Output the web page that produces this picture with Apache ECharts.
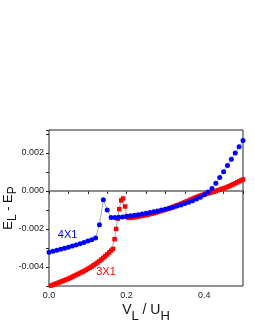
<!DOCTYPE html>
<html><head><meta charset="utf-8">
<script src="https://cdn.jsdelivr.net/npm/echarts@6/dist/echarts.min.js"></script>
<style>html,body{margin:0;padding:0;background:#fff}#c{width:255px;height:330px}</style>
</head><body><div id="c"></div>
<script>
// 4X1 (blue circles)
const blueX = [0.00,0.01,0.02,0.03,0.04,0.05,0.06,0.07,0.08,0.09,0.10,0.11,0.12,0.13,0.14,0.15,0.16,0.17,0.18,0.19,0.20,0.21,0.22,0.23,0.24,0.25,0.26,0.27,0.28,0.29,0.30,0.31,0.32,0.33,0.34,0.35,0.36,0.37,0.38,0.39,0.40,0.41,0.42,0.43,0.44,0.45,0.46,0.47,0.48,0.49,0.50];
const blueY = [-0.00322,-0.00317,-0.00312,-0.00307,-0.00302,-0.00296,-0.00290,-0.00284,-0.00278,-0.00271,-0.00264,-0.00257,-0.00248,-0.00178,-0.00047,-0.00100,
  -0.00140,-0.00140,-0.00139,-0.00137,-0.00134,-0.00131,-0.00128,-0.00125,-0.00121,-0.00118,-0.00114,-0.00110,-0.00106,-0.00101,-0.00096,-0.00091,-0.00086,-0.00080,-0.00074,-0.00067,-0.00060,-0.00052,-0.00043,-0.00033,-0.00021,-0.00006,
  0.00012,0.00040,0.00070,0.00100,0.00133,0.00166,0.00199,0.00232,0.00265];
// 3X1 (red squares)
const redX = [0.000,0.005,0.010,0.015,0.020,0.025,0.030,0.035,0.040,0.045,0.050,0.055,0.060,0.065,0.070,0.075,0.080,0.085,0.090,0.095,0.100,0.105,0.110,0.115,0.120,0.125,0.130,0.135,0.140,0.145,0.150,0.155,0.160,0.165,
  0.169,0.173,0.177,0.181,0.186,0.191,0.196,0.201,
  0.205,0.210,0.215,0.220,0.225,0.230,0.235,0.240,0.245,0.250,0.255,0.260,0.265,0.270,0.275,0.280,0.285,0.290,0.295,0.300,0.305,0.310,0.315,0.320,0.325,0.330,0.335,0.340,0.345,0.350,0.355,0.360,0.365,0.370,0.375,0.380,0.385,0.390,0.395,0.400,0.405,0.410,0.415,0.420,0.425,0.430,0.435,0.440,0.445,0.450,0.455,0.460,0.465,0.470,0.475,0.480,0.485,0.490,0.495,0.500];
const redY = [-0.00502,-0.00498,-0.00494,-0.00490,-0.00486,-0.00482,-0.00478,-0.00474,-0.00470,-0.00466,-0.00462,-0.00457,-0.00452,-0.00447,-0.00442,-0.00437,-0.00432,-0.00427,-0.00422,-0.00416,-0.00410,-0.00404,-0.00398,-0.00391,-0.00384,-0.00377,-0.00369,-0.00361,-0.00352,-0.00343,-0.00334,-0.00324,-0.00314,-0.00305,
  -0.00254,-0.00200,-0.00146,-0.00096,-0.00050,-0.00040,-0.00082,-0.00136,
  -0.00142,-0.00141,-0.00140,-0.00138,-0.00137,-0.00135,-0.00133,-0.00131,-0.00129,-0.00127,-0.00125,-0.00122,-0.00120,-0.00117,-0.00114,-0.00111,-0.00108,-0.00105,-0.00102,-0.00099,-0.00095,-0.00092,-0.00088,-0.00084,-0.00080,-0.00076,-0.00072,-0.00068,-0.00064,-0.00060,-0.00055,-0.00051,-0.00046,-0.00042,-0.00037,-0.00033,-0.00029,-0.00025,-0.00022,-0.00019,-0.00016,-0.00013,-0.00010,-0.00007,-0.00004,-0.00001,0.00003,0.00006,0.00010,0.00013,0.00017,0.00021,0.00025,0.00030,0.00035,0.00040,0.00045,0.00050,0.00055,0.00060];
const xTickLabels = ['0.0','0.2','0.4'];
const yTickLabels = ['0.002','0.000','-0.002','-0.004'];
const seriesNames = ['3X1','4X1'];
const labelPos = {'4X1':[0.048,-0.0023], '3X1':[0.147,-0.00428]};

const chart = echarts.init(document.getElementById('c'), null, {renderer:'canvas'});
const F = '"Liberation Sans", Arial, sans-serif';
const xMin = 0, xMax = 0.5, yMin = -0.005, yMax = 0.0032;
const fmtX = v => { const s = v.toFixed(1); return xTickLabels.includes(s) ? s : ''; };
const fmtY = v => { const s = (Math.abs(v) < 1e-9 ? 0 : v).toFixed(3); return yTickLabels.includes(s) ? s : ''; };
const noLine = {show:false};
chart.setOption({
  animation:false,
  grid:{left:49, top:130, width:194, height:156, containLabel:false, outerBoundsMode:'none',
        show:true, borderColor:'#222', borderWidth:1, backgroundColor:'transparent'},
  xAxis:[
    {type:'value', min:xMin, max:xMax, interval:0.1, position:'bottom',
     axisLine:noLine, splitLine:{show:false},
     axisTick:{show:true, inside:false, length:3, lineStyle:{color:'#222'}},
     axisLabel:{formatter:fmtX, fontSize:9, color:'#222', fontFamily:F, margin:5, showMaxLabel:false},
     name:'{m|V}{s|L}{m| / U}{s|H}', nameLocation:'middle', nameGap:17, nameMoveOverlap:false,
     nameTextStyle:{rich:{m:{fontSize:14, fontFamily:F, color:'#111', lineHeight:18, verticalAlign:'top'},
                          s:{fontSize:13, fontFamily:F, color:'#111', lineHeight:18, padding:[7,0,0,0], verticalAlign:'top'}}}},
    {type:'value', min:xMin, max:xMax, interval:0.05, position:'top',
     axisLine:noLine, splitLine:{show:false},
     axisTick:{show:true, inside:true, length:3, lineStyle:{color:'#222'}},
     axisLabel:{show:false}}
  ],
  yAxis:[
    {type:'value', min:yMin, max:yMax, interval:0.001, position:'left',
     axisLine:noLine, splitLine:{show:false},
     axisTick:{show:true, inside:false, length:3, lineStyle:{color:'#222'}},
     axisLabel:{formatter:fmtY, fontSize:9, color:'#222', fontFamily:F, margin:5},
     name:'{m|E}{s|L}{m| - E}{s|P}', nameLocation:'middle', nameGap:31, nameRotate:90, nameMoveOverlap:false,
     nameTextStyle:{rich:{m:{fontSize:13, fontFamily:F, color:'#111', lineHeight:16, verticalAlign:'top'},
                          s:{fontSize:12, fontFamily:F, color:'#111', lineHeight:16, padding:[5,0,0,0], verticalAlign:'top'}}}},
    {type:'value', min:yMin, max:yMax, interval:0.001, position:'right',
     axisLine:noLine, splitLine:{show:false},
     axisTick:{show:true, inside:true, length:3, lineStyle:{color:'#222'}},
     axisLabel:{show:false}}
  ],
  series:[
    {name:seriesNames[0], type:'line', data:redX.map((x,i)=>[x,redY[i]]),
     symbol:'rect', symbolSize:4.5, showAllSymbol:true, itemStyle:{color:'#ff0000'},
     lineStyle:{color:'#999', width:0.8}, z:2,
     markPoint:{symbol:'circle', symbolSize:0, data:[{coord:labelPos['3X1'], value:'3X1'}],
       label:{show:true, formatter:'3X1', color:'#ff0000', fontSize:11, fontFamily:F, position:'inside'}}},
    {name:seriesNames[1], type:'line', data:blueX.map((x,i)=>[x,blueY[i]]),
     symbol:'circle', symbolSize:5, showAllSymbol:true, itemStyle:{color:'#0000ff'},
     lineStyle:{color:'#999', width:0.8}, z:3,
     markLine:{silent:true, symbol:['none','none'], label:{show:false}, lineStyle:{color:'#666', width:1.5, type:'solid'},
       data:[{yAxis:0}], z:1},
     markPoint:{symbol:'circle', symbolSize:0, data:[{coord:labelPos['4X1'], value:'4X1'}],
       label:{show:true, formatter:'4X1', color:'#0000ff', fontSize:11, fontFamily:F, position:'inside'}}}
  ]
});
</script></body></html>
